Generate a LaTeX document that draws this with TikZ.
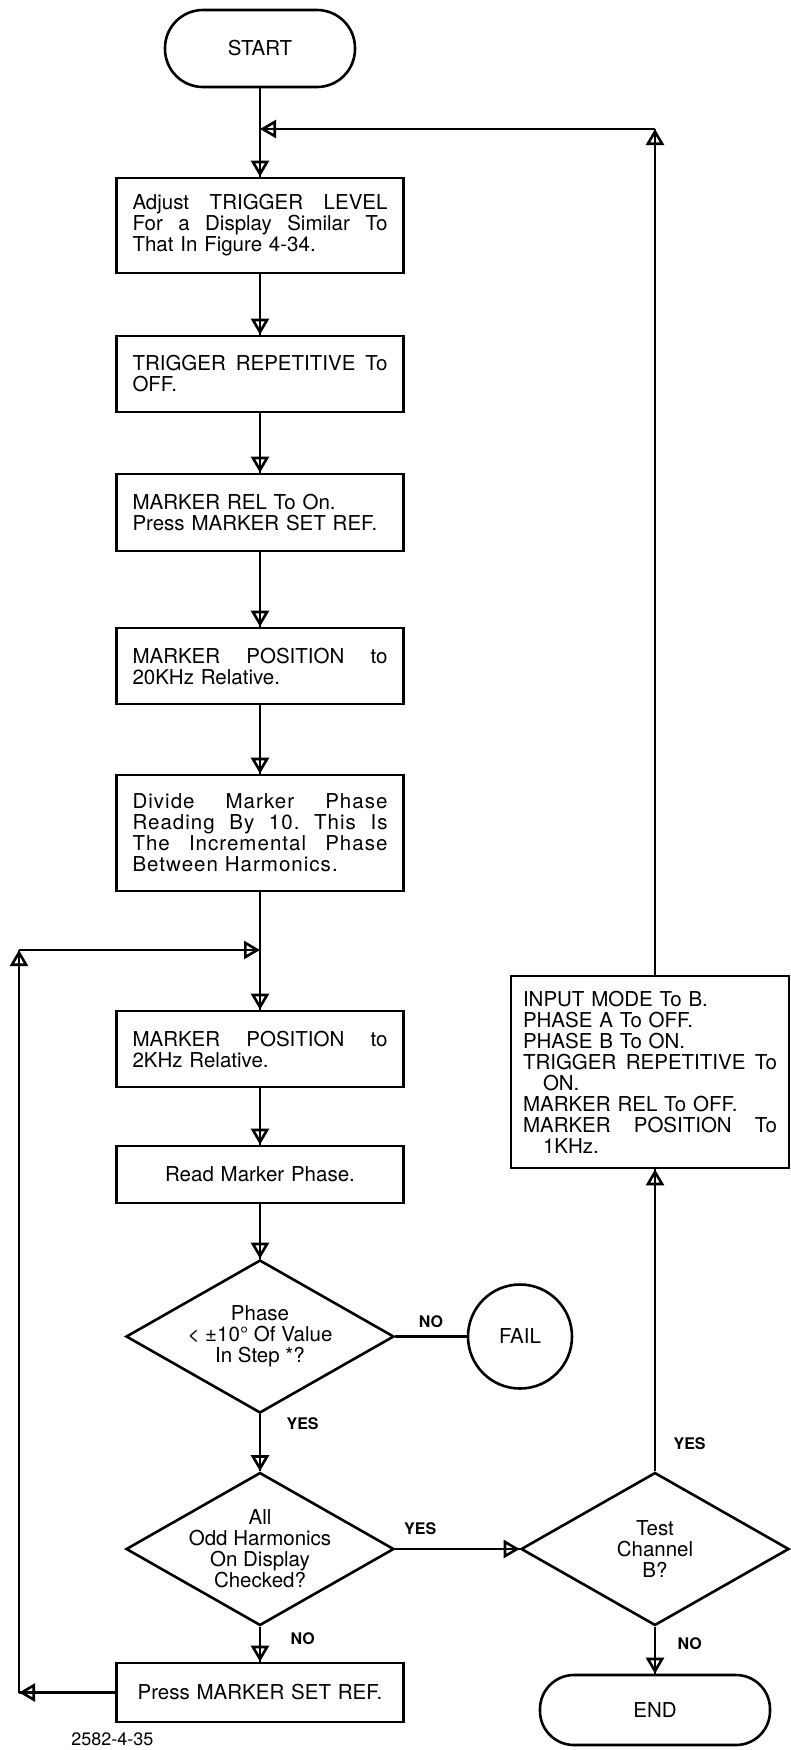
\documentclass[tikz,border=0pt]{standalone}
\usepackage{fontspec}
\setmainfont{TeX Gyre Heros}
\usetikzlibrary{arrows.meta, positioning, shapes.geometric, calc}

\newcommand{\jline}[1]{{\spaceskip=.278em plus 1fil\relax\xspaceskip=.278em plus 1fil\relax\makebox[\hsize][s]{#1}}}

\begin{document}
\begin{tikzpicture}[x=1pt, y=-1pt, line width=2.6pt,
  txt/.style={font=\fontsize{20.5pt}{21pt}\selectfont},
  box/.style={txt, draw, text width=255pt, inner xsep=16pt, inner ysep=0pt, align=left},
  term/.style={txt, draw, rounded corners=34pt, minimum width=230pt, minimum height=70pt},
  decision/.style={txt, draw, diamond, minimum width=268pt, minimum height=153pt, inner sep=-20pt, align=center},
  flow/.style={postaction={draw, -{Triangle[open, length=16pt, width=18pt]}}},
  lbl/.style={font=\fontsize{16pt}{16pt}\selectfont\bfseries}]
\useasboundingbox (0,0) rectangle (791,1750);

% main column
\node[term, rounded corners=38pt, minimum width=190pt, minimum height=77pt] (start) at (260,48.5) {START};
\node[box, minimum height=95pt] (b1) at (260,225.5) {\jline{Adjust TRIGGER LEVEL}\\ \jline{For a Display Similar To}\\ That In Figure 4-34.};
\node[box, minimum height=76pt] (b2) at (260,374) {\jline{TRIGGER REPETITIVE To}\\ OFF.};
\node[box, minimum height=77pt] (b3) at (260,512.5) {MARKER REL To On.\\ Press MARKER SET REF.};
\node[box, minimum height=76pt] (b4) at (260,666) {\jline{MARKER POSITION to}\\ 20KHz Relative.};
\node[box, minimum height=116pt] (b5) at (260,833) {\addfontfeature{LetterSpace=5}\jline{Divide Marker Phase}\\ \jline{Reading By 10. This Is}\\ \jline{The Incremental Phase}\\ Between Harmonics.};
\node[box, minimum height=76pt] (b6) at (260,1049) {\jline{MARKER POSITION to}\\ 2KHz Relative.};
\node[box, minimum height=57pt, align=center] (b7) at (260,1174.5) {Read Marker Phase.};
\node[decision] (d1) at (260,1336.5) {Phase\\ < ±10° Of Value\\ In Step *?};
\node[txt, draw, circle, minimum size=104pt, inner sep=0pt] (fail) at (520,1336.5) {FAIL};
\node[decision] (d3) at (260,1549) {All\\ Odd Harmonics\\ On Display\\ Checked?};
\node[box, minimum height=59pt, align=center] (b8) at (260,1692.5) {Press MARKER SET REF.};

% right column
\node[decision] (d2) at (655,1549) {Test\\ Channel\\ B?};
\node[term] (end) at (655,1710) {END};
\node[box, text width=254pt, inner xsep=12pt, minimum height=192pt] (rbox) at (650,1072) {INPUT MODE To B.\\ PHASE A To OFF.\\ PHASE B To ON.\\ \jline{TRIGGER REPETITIVE To}\\ \hspace*{20pt}ON.\\ MARKER REL To OFF.\\ \jline{MARKER POSITION To}\\ \hspace*{20pt}1KHz.};

\node[font=\fontsize{18pt}{18pt}\selectfont, anchor=north west, inner sep=0pt] (fig) at (70,1731) {2582-4-35};

\coordinate (jtop) at (260,129);
\coordinate (rtop) at (655,129);
\coordinate (jmid) at (260,950);
\coordinate (ltop) at (19,950);
\coordinate (lbot) at (19,1692.5);

% connectors
\draw[flow] (start) -- (b1);
\draw[flow] (b1) -- (b2);
\draw[flow] (b2) -- (b3);
\draw[flow] (b3) -- (b4);
\draw[flow] (b4) -- (b5);
\draw[flow] (b5) -- (b6);
\draw[flow] (b6) -- (b7);
\draw[flow] (b7) -- (d1);
\draw (d1) -- node[lbl, above=4pt] (no1) {NO} (fail);
\draw[flow] (d1) -- node[lbl, pos=0.17, right=22pt] (yes1) {YES} (d3);
\draw[flow] (d3) -- node[lbl, pos=0.35, right=26pt] (no2) {NO} (b8);
\draw[flow] (d3) -- node[lbl, pos=0.2, above=10pt] (yes2) {YES} (d2);
\draw[flow] (d2) -- node[lbl, pos=0.35, right=18pt] (no3) {NO} (end);
\draw[flow] (d2.north) -- node[lbl, pos=0.09, right=14pt] (yes3) {YES} (d2.north |- rbox.south);
\draw[flow] (rbox.north -| rtop) -- (rtop);
\draw[flow] (rtop) -- (jtop);
\draw[flow] (b8) -- (lbot);
\draw[flow] (lbot) -- (ltop);
\draw[flow] (ltop) -- (jmid);
\end{tikzpicture}
\end{document}
